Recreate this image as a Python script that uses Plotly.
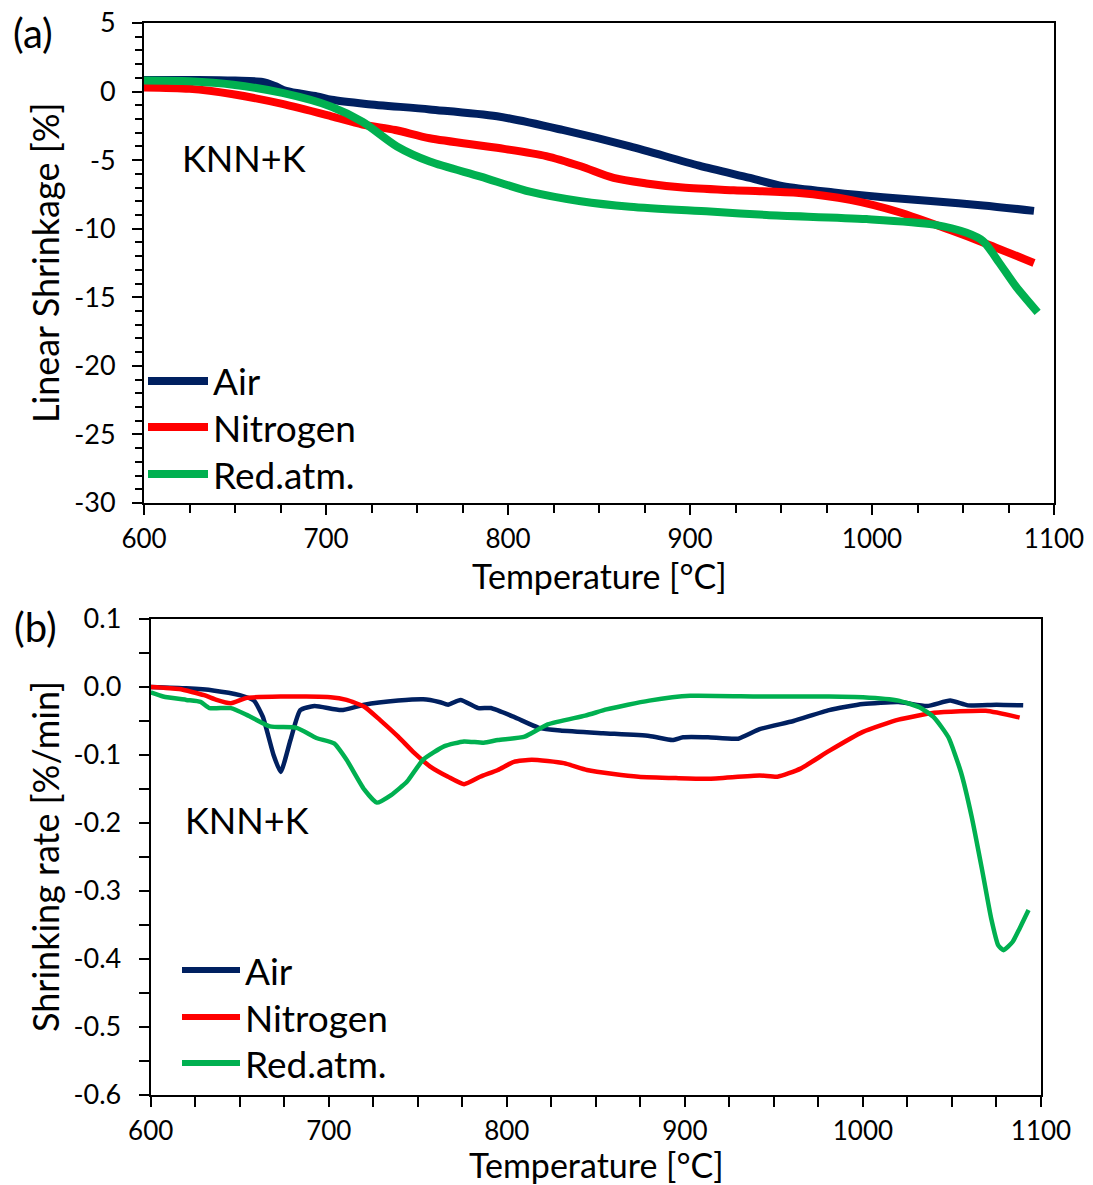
import plotly.graph_objects as go

# ---------------- (a) linear shrinkage ----------------
air_a_T = [600, 630, 650, 665, 672, 678, 695, 703, 722, 757, 794, 830, 867, 905, 933, 951, 979, 1006, 1034, 1061, 1089]
air_a_y = [0.85, 0.85, 0.8, 0.7, 0.4, 0.05, -0.35, -0.6, -0.9, -1.3, -1.8, -2.8, -4.0, -5.4, -6.3, -6.9, -7.35, -7.7, -8.0, -8.3, -8.7]

n2_a_T = [600, 625, 649, 676, 703, 720, 738, 757, 794, 821, 840, 858, 876, 896, 924, 960, 988, 1015, 1043, 1061, 1089]
n2_a_y = [0.3, 0.2, -0.2, -0.9, -1.8, -2.4, -2.8, -3.4, -4.1, -4.7, -5.45, -6.3, -6.7, -7.0, -7.2, -7.4, -7.9, -8.8, -10.1, -11.0, -12.5]

red_a_T = [600, 625, 649, 676, 703, 720, 739, 757, 785, 812, 840, 867, 911, 942, 997, 1034, 1052, 1061, 1070, 1079, 1091]
red_a_y = [0.8, 0.75, 0.5, -0.1, -1.1, -2.2, -4.0, -5.1, -6.2, -7.3, -8.0, -8.4, -8.75, -9.0, -9.3, -9.7, -10.3, -10.9, -12.5, -14.2, -16.1]

# ---------------- (b) shrinking rate ----------------
air_b_T = [600, 620, 635, 650, 658, 663, 669, 673, 678.5, 684, 692, 707, 720, 739, 753, 762, 767, 774, 784, 791,
           804, 818, 830, 854, 880, 893, 899, 913, 930, 942, 961, 981, 1000, 1020, 1036, 1049, 1059, 1075, 1090]
air_b_y = [0.0, -0.002, -0.005, -0.012, -0.02, -0.044, -0.10, -0.125, -0.078, -0.034, -0.028, -0.034, -0.026, -0.02,
           -0.018, -0.022, -0.026, -0.019, -0.031, -0.031, -0.044, -0.06, -0.064, -0.068, -0.072, -0.078, -0.074,
           -0.074, -0.076, -0.062, -0.05, -0.034, -0.025, -0.022, -0.028, -0.02, -0.027, -0.026, -0.027]

n2_b_T = [600, 616, 630, 637, 645, 654, 673, 701, 710, 720, 729, 739, 748, 757, 767, 776, 785, 795, 804, 814,
          832, 845, 860, 874, 895, 913, 942, 952, 965, 981, 1000, 1020, 1040, 1069, 1088]
n2_b_y = [0.0, -0.003, -0.012, -0.019, -0.024, -0.016, -0.014, -0.015, -0.019, -0.029, -0.049, -0.073, -0.097,
          -0.117, -0.132, -0.143, -0.132, -0.122, -0.11, -0.107, -0.112, -0.122, -0.128, -0.132, -0.134, -0.135,
          -0.13, -0.132, -0.12, -0.094, -0.066, -0.048, -0.038, -0.035, -0.045]

red_b_T = [600, 607, 620, 628, 633, 645, 654, 667, 682, 693, 703, 710, 720, 727, 735, 744, 753, 765, 776, 787,
           795, 810, 823, 844, 856, 868, 880, 903, 942, 981, 1000, 1020, 1032, 1040, 1048, 1055, 1061, 1067, 1072,
           1076, 1079, 1084, 1088, 1093]
red_b_y = [-0.008, -0.014, -0.019, -0.022, -0.031, -0.031, -0.041, -0.058, -0.06, -0.075, -0.083, -0.107, -0.151,
           -0.17, -0.159, -0.139, -0.107, -0.087, -0.08, -0.082, -0.078, -0.073, -0.055, -0.042, -0.033, -0.026,
           -0.02, -0.013, -0.014, -0.014, -0.015, -0.02, -0.03, -0.045, -0.074, -0.125, -0.19, -0.27, -0.34,
           -0.38, -0.387, -0.375, -0.355, -0.328]

series_names = ["Air", "Nitrogen", "Red.atm."]
series_colors = ["#002060", "#FF0000", "#00B050"]

x_ticks = [600, 700, 800, 900, 1000, 1100]
ya_ticks = [5, 0, -5, -10, -15, -20, -25, -30]
yb_ticks = [0.1, 0.0, -0.1, -0.2, -0.3, -0.4, -0.5, -0.6]

W, H = 1093, 1185
FONT = "Lato"


def px(x):
    return x / W


def py(y):
    return 1 - y / H


fig = go.Figure()

for T, y, c in zip([air_a_T, n2_a_T, red_a_T], [air_a_y, n2_a_y, red_a_y], series_colors):
    fig.add_trace(go.Scatter(x=T, y=y, mode="lines", xaxis="x", yaxis="y", showlegend=False,
                             line=dict(color=c, width=8, shape="spline", smoothing=0.8)))

for T, y, c in zip([air_b_T, n2_b_T, red_b_T], [air_b_y, n2_b_y, red_b_y], series_colors):
    fig.add_trace(go.Scatter(x=T, y=y, mode="lines", xaxis="x2", yaxis="y2", showlegend=False,
                             line=dict(color=c, width=4.5, shape="spline", smoothing=0.5)))


def hyphen(v, fmt):
    return (fmt % v).replace("\u2212", "-")


axis_common = dict(showline=True, linecolor="black", linewidth=2, mirror=True, ticks="outside",
                   ticklen=10, tickwidth=2, tickcolor="black", showgrid=False, zeroline=False,
                   automargin=False,
                   tickfont=dict(family=FONT, size=27, color="black"))
xtick_font = dict(family=FONT, size=26, color="black")

fig.update_layout(
    template="none",
    width=W, height=H, margin=dict(l=0, r=0, t=0, b=0, autoexpand=False),
    paper_bgcolor="white", plot_bgcolor="white",
    xaxis=dict(domain=[px(144), px(1054)], anchor="y", range=[600, 1100],
               tickvals=x_ticks, ticktext=[str(v) for v in x_ticks], ticklabelstandoff=2,
               minor=dict(ticks="outside", dtick=25, ticklen=8, tickwidth=2, tickcolor="black"),
               **{**axis_common, "tickfont": xtick_font}),
    yaxis=dict(domain=[py(503), py(23)], anchor="x", range=[-30, 5],
               tickvals=ya_ticks, ticktext=[hyphen(v, "%d") for v in ya_ticks], ticklabelstandoff=11,
               minor=dict(ticks="outside", dtick=1, ticklen=7, tickwidth=2, tickcolor="black"),
               **axis_common),
    xaxis2=dict(domain=[px(150.7), px(1041)], anchor="y2", range=[600, 1100],
                tickvals=x_ticks, ticktext=[str(v) for v in x_ticks], ticklabelstandoff=2,
                minor=dict(ticks="outside", dtick=25, ticklen=10, tickwidth=2, tickcolor="black"),
                **{**axis_common, "tickfont": xtick_font}),
    yaxis2=dict(domain=[py(1095), py(619)], anchor="x2", range=[-0.6, 0.1],
                tickvals=yb_ticks, ticktext=[hyphen(v, "%.1f") for v in yb_ticks], ticklabelstandoff=12,
                minor=dict(ticks="outside", dtick=0.05, ticklen=10, tickwidth=2, tickcolor="black"),
                **axis_common),
)

ann = []
shapes = []


def text(x, y, s, size, xanchor="center", angle=0):
    ann.append(dict(x=px(x), y=py(y), xref="paper", yref="paper", text=s, showarrow=False,
                    xanchor=xanchor, yanchor="middle", textangle=angle,
                    font=dict(family=FONT, size=size, color="black")))


# panel labels, axis titles, sample label
text(33, 33, "(a)", 40)
text(35, 627, "(b)", 40)
text(599, 576, "Temperature [°C]", 34)
text(596, 1164, "Temperature [°C]", 34)
text(45, 263, "Linear Shrinkage [%]", 36, angle=-90)
text(45, 857, "Shrinking rate [%/min]", 36, angle=-90)
text(180, 158, "KNN+K", 36, xanchor="left")
text(183, 820, "KNN+K", 36, xanchor="left")

# legends
for (x0, x1, tx, ys, lw) in [(148, 208, 211, [381, 427, 474], 8), (182, 240, 243, [970, 1017, 1063], 6)]:
    for name, c, yy in zip(series_names, series_colors, ys):
        shapes.append(dict(type="line", xref="paper", yref="paper", x0=px(x0), x1=px(x1), y0=py(yy), y1=py(yy),
                           line=dict(color=c, width=lw)))
        text(tx, yy, name, 37, xanchor="left")

fig.update_layout(annotations=ann, shapes=shapes)

fig.write_html("out.html")
